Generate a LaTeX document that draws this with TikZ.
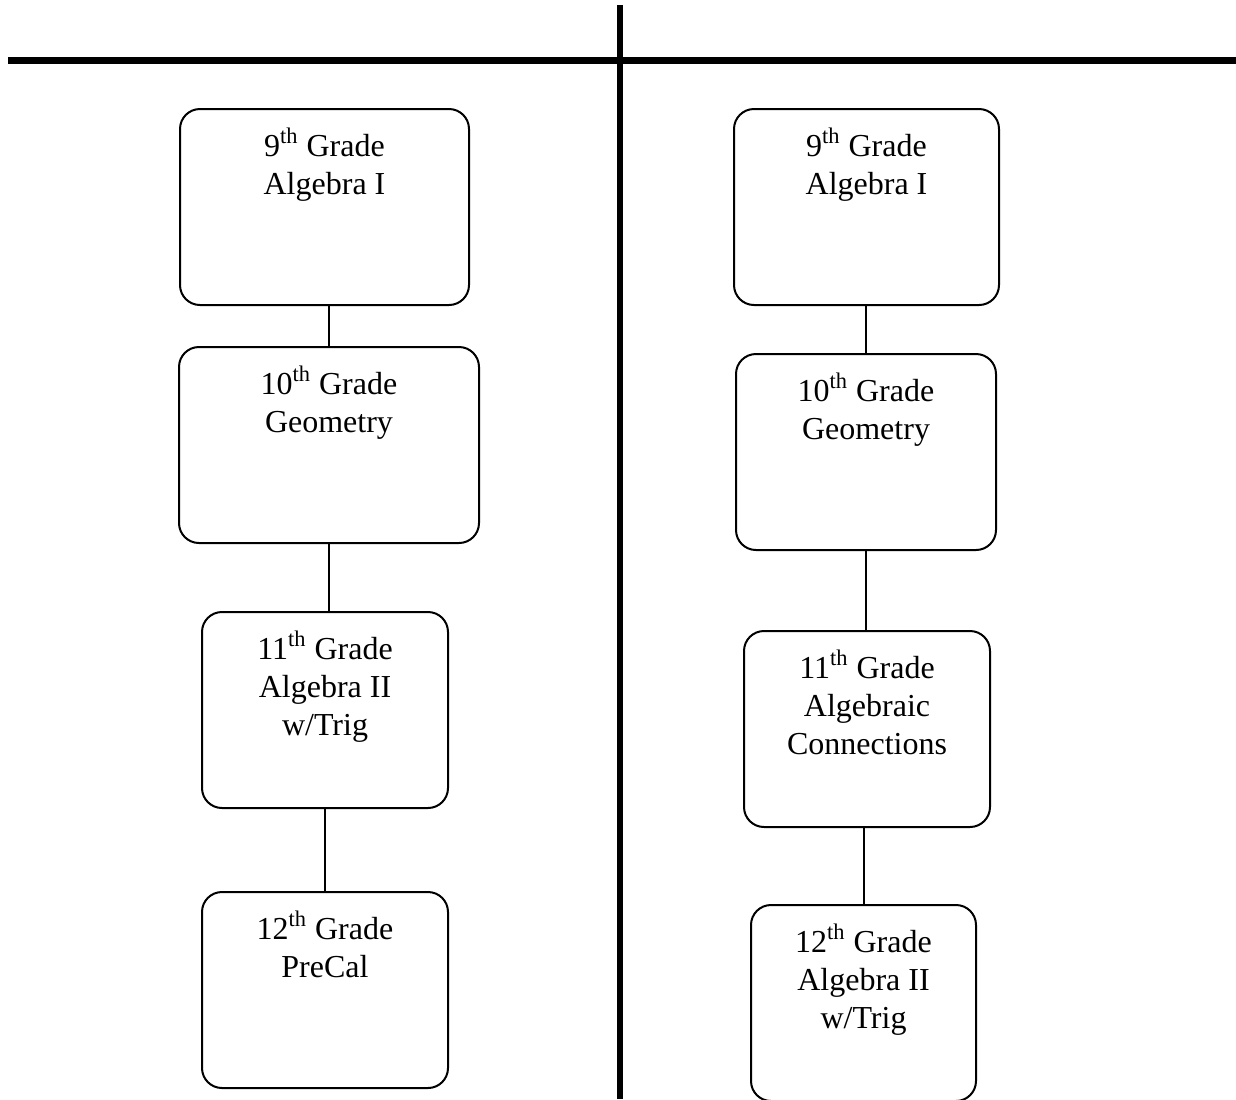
\documentclass[tikz,border=0pt]{standalone}
\usepackage{fontspec}
\setmainfont{Liberation Serif}
\usetikzlibrary{positioning}
\tikzset{
  course/.style={draw, rounded corners=10pt, line width=1pt, inner sep=0pt, anchor=north, minimum height=98pt},
  coursetext/.style={anchor=north, align=center, inner sep=0pt, font=\fontsize{16}{19}\selectfont},
  link/.style={line width=1pt}
}
\begin{document}
\begin{tikzpicture}[x=0.5pt, y=-0.5pt]
\useasboundingbox (0,0) rectangle (1236,1099);
% the two divider lines
\draw[line width=3.75pt] (8,60.5) -- (1236,60.5);
\draw[line width=3pt] (620,5) -- (620,1099);
% left column
\node (L1) [course, minimum width=144.5pt] at (324.5,108) {};
\node (L2) [course, minimum width=150pt] at (329,346) {};
\node (L3) [course, minimum width=123pt] at (325,611) {};
\node (L4) [course, minimum width=123pt] at (325,891) {};
\node (L1text) [coursetext] at ([yshift=-10pt]L1.north) {9\textsuperscript{th} Grade\\Algebra I};
\node (L2text) [coursetext] at ([yshift=-10pt]L2.north) {10\textsuperscript{th} Grade\\Geometry};
\node (L3text) [coursetext] at ([yshift=-10pt]L3.north) {11\textsuperscript{th} Grade\\Algebra II\\w/Trig};
\node (L4text) [coursetext] at ([yshift=-10pt]L4.north) {12\textsuperscript{th} Grade\\PreCal};
\draw[link] (L1.south -| L2.north) -- (L2.north);
\draw[link] (L2.south) -- (L2.south |- L3.north);
\draw[link] (L3.south) -- (L4.north);
% right column
\node (R1) [course, minimum width=132.5pt] at (866.5,108) {};
\node (R2) [course, minimum width=130pt] at (866,353) {};
\node (R3) [course, minimum width=123pt] at (867,630) {};
\node (R4) [course, minimum width=112.5pt] at (863.5,904) {};
\node (R1text) [coursetext] at ([yshift=-10pt]R1.north) {9\textsuperscript{th} Grade\\Algebra I};
\node (R2text) [coursetext] at ([yshift=-10pt]R2.north) {10\textsuperscript{th} Grade\\Geometry};
\node (R3text) [coursetext] at ([yshift=-10pt]R3.north) {11\textsuperscript{th} Grade\\Algebraic\\Connections};
\node (R4text) [coursetext] at ([yshift=-10pt]R4.north) {12\textsuperscript{th} Grade\\Algebra II\\w/Trig};
\draw[link] (R1.south -| R2.north) -- (R2.north);
\draw[link] (R2.south) -- (R2.south |- R3.north);
\draw[link] (R3.south -| R4.north) -- (R4.north);
\end{tikzpicture}
\end{document}
